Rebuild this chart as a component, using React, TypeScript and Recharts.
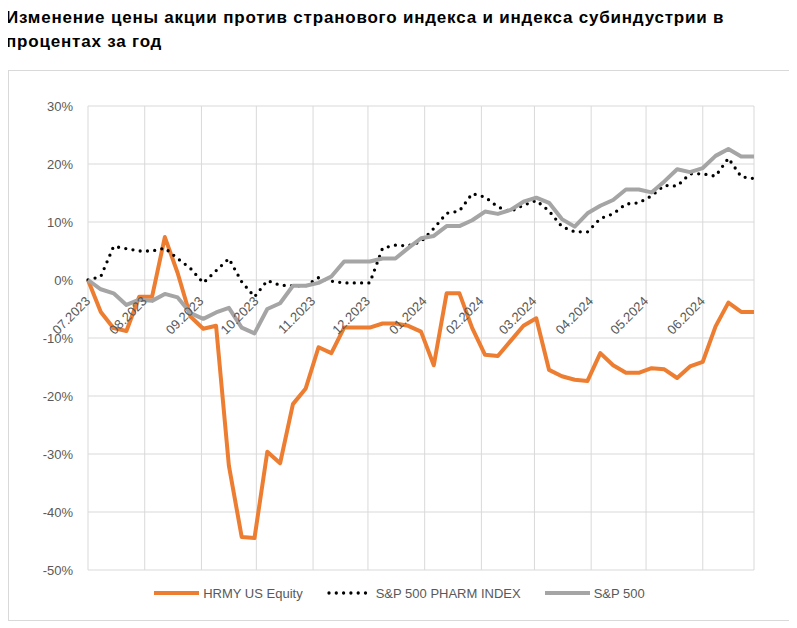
import { LineChart, Line, XAxis, YAxis, CartesianGrid, Legend } from 'recharts';

// weekly observations, % change since start of period
const HRMY = [
  0, -5.5, -8.3, -8.8, -2.9, -2.9, 7.4, 1.2, -6.3, -8.4, -7.9, -32.0, -44.3, -44.5,
  -29.6, -31.6, -21.4, -18.7, -11.6, -12.6, -8.2, -8.2, -8.2, -7.5, -7.5, -7.9, -8.9,
  -14.7, -2.3, -2.3, -8.3, -12.9, -13.1, -10.5, -7.9, -6.6, -15.5, -16.6, -17.2, -17.4,
  -12.6, -14.7, -16.0, -16.0, -15.2, -15.4, -16.9, -14.9, -14.1, -8.0, -3.9, -5.5, -5.5,
];
const PHARM = [
  0, 0.6, 5.8, 5.4, 5.0, 5.0, 5.5, 3.7, 2.0, -0.5, 1.6, 3.7, -0.3, -2.9,
  -0.1, -0.9, -1.0, -1.0, 0.4, -0.2, -0.5, -0.5, -0.5, 5.5, 6.0, 5.9, 6.6,
  8.9, 11.5, 11.9, 14.9, 14.3, 12.6, 11.8, 12.9, 13.7, 11.9, 9.2, 8.3, 8.3,
  10.6, 11.4, 13.1, 13.3, 14.5, 16.3, 16.2, 18.3, 18.3, 17.9, 21.0, 17.8, 17.5,
];
const SPX = [
  0, -1.6, -2.3, -4.3, -3.4, -3.6, -2.4, -3.0, -5.7, -6.7, -5.6, -4.8, -8.2, -9.2,
  -5.0, -4.0, -1.0, -1.0, -0.5, 0.6, 3.2, 3.2, 3.2, 3.7, 3.7, 5.5, 7.2,
  7.6, 9.3, 9.3, 10.3, 11.8, 11.4, 12.1, 13.5, 14.2, 13.3, 10.5, 9.2, 11.5,
  12.8, 13.8, 15.6, 15.6, 15.1, 17.0, 19.1, 18.6, 19.3, 21.4, 22.6, 21.3, 21.3,
];

// month starts, in days from the first observation
const MONTH_DAYS = [0, 31, 62, 92, 123, 153, 184, 215, 244, 275, 305, 336];
const MONTH_LABELS = [
  '07.2023', '08.2023', '09.2023', '10.2023', '11.2023', '12.2023',
  '01.2024', '02.2024', '03.2024', '04.2024', '05.2024', '06.2024',
];
const Y_TICKS = [-50, -40, -30, -20, -10, 0, 10, 20, 30];

const SERIES = [
  { key: 'hrmy', name: 'HRMY US Equity', color: '#ED7D31', dash: undefined },
  { key: 'pharm', name: 'S&P 500 PHARM INDEX', color: '#000000', dash: '0 7.3' },
  { key: 'spx', name: 'S&P 500', color: '#A5A5A5', dash: undefined },
];

const data = HRMY.map((v, i) => ({ day: i * 7, hrmy: v, pharm: PHARM[i], spx: SPX[i] }));

const W = 781;
const H = 549;
const MARGIN = { top: 35, right: 36, bottom: 17, left: 19 };
const PLOT_H = 464;
const ZERO_Y = MARGIN.top + (PLOT_H * 30) / 80;
const FONT = '"Liberation Sans", Arial, sans-serif';

function MonthTick({ x, payload }: any) {
  const label = MONTH_LABELS[MONTH_DAYS.indexOf(payload.value)];
  const ax = x + 3;
  const ay = ZERO_Y + 22;
  return (
    <text x={ax} y={ay} textAnchor="end" fill="#595959" fontSize={13} fontFamily={FONT}
      transform={`rotate(-45 ${ax} ${ay})`}>
      {label}
    </text>
  );
}

function LegendRow() {
  return (
    <div style={{ display: 'flex', justifyContent: 'center', alignItems: 'center', height: 20, fontFamily: FONT, fontSize: 13, color: '#595959' }}>
      {SERIES.map((s) => (
        <div key={s.key} style={{ display: 'flex', alignItems: 'center', margin: '0 12px' }}>
          <svg width={45} height={8} style={{ marginRight: 4 }}>
            <line x1={s.dash ? 2 : 0} y1={4} x2={45} y2={4} stroke={s.color} strokeWidth={s.dash ? 3.3 : 4}
              strokeDasharray={s.dash} strokeLinecap={s.dash ? 'round' : 'butt'} />
          </svg>
          <span>{s.name}</span>
        </div>
      ))}
    </div>
  );
}

export default function App() {
  return (
    <div style={{ width: 783, fontFamily: FONT }}>
      <div style={{ margin: '-2px 0 0 -2px', fontWeight: 'bold', fontSize: 17, letterSpacing: 0.8, lineHeight: '24px', height: 48, color: '#000' }}>
        Изменение цены акции против странового индекса и индекса субиндустрии в
        <br />
        процентах за год
      </div>
      <div style={{ marginTop: 16, border: '1px solid #d9d9d9', width: W - 1, height: H }}>
        <LineChart width={W} height={H} data={data} margin={MARGIN}>
          <CartesianGrid stroke="#d9d9d9" strokeWidth={1} />
          <XAxis dataKey="day" type="number" domain={[0, 364]} ticks={MONTH_DAYS} interval={0}
            height={13} axisLine={false} tickLine={false} tick={MonthTick} />
          <YAxis domain={[-50, 30]} ticks={Y_TICKS} width={60} axisLine={false} tickLine={false}
            tickMargin={9} tickFormatter={(v: number) => `${v}%`}
            tick={{ fill: '#595959', fontSize: 13, fontFamily: FONT }} />
          <Legend verticalAlign="bottom" content={LegendRow} wrapperStyle={{ left: 0, width: W }} />
          {SERIES.map((s) => (
            <Line key={s.key} type="linear" dataKey={s.key} name={s.name} stroke={s.color}
              strokeWidth={s.dash ? 3.3 : 4} strokeDasharray={s.dash}
              strokeLinecap={s.dash ? 'round' : 'butt'} strokeLinejoin="round"
              dot={false} activeDot={false} isAnimationActive={false} />
          ))}
        </LineChart>
      </div>
    </div>
  );
}
